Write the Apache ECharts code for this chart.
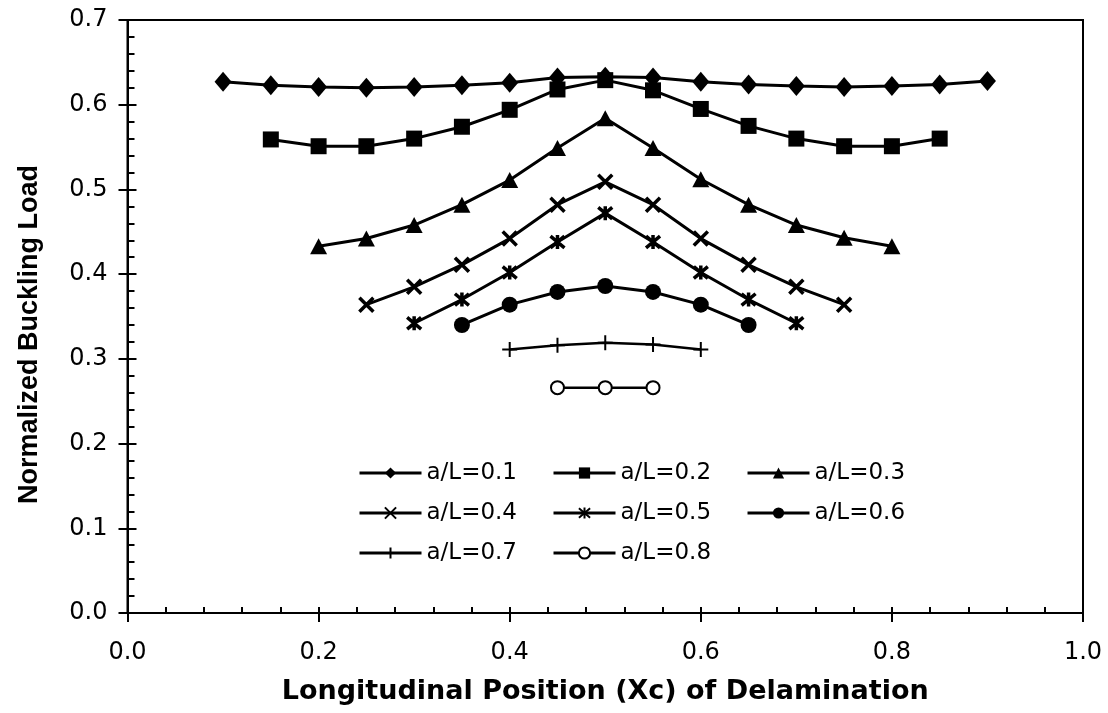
<!DOCTYPE html>
<html>
<head>
<meta charset="utf-8" />
<title>Normalized Buckling Load</title>
<script src="https://cdn.jsdelivr.net/npm/echarts@6/dist/echarts.min.js"></script>
<style>
  * {
    margin: 0;
    padding: 0;
  }
  #chart {
    width: 1108px;
    height: 713px;
    background: #fff;
  }
</style>
</head>
<body>
<div id="chart"></div>
<script>
// 数据
const x01 = [0.1, 0.15, 0.2, 0.25, 0.3, 0.35, 0.4, 0.45, 0.5, 0.55, 0.6, 0.65, 0.7, 0.75, 0.8, 0.85, 0.9];
const y01 = [0.627, 0.623, 0.621, 0.620, 0.621, 0.623, 0.626, 0.632, 0.633, 0.632, 0.627, 0.624, 0.622, 0.621, 0.622, 0.624, 0.628];
const x02 = [0.15, 0.2, 0.25, 0.3, 0.35, 0.4, 0.45, 0.5, 0.55, 0.6, 0.65, 0.7, 0.75, 0.8, 0.85];
const y02 = [0.559, 0.551, 0.551, 0.560, 0.574, 0.594, 0.618, 0.629, 0.617, 0.595, 0.575, 0.560, 0.551, 0.551, 0.560];
const x03 = [0.2, 0.25, 0.3, 0.35, 0.4, 0.45, 0.5, 0.55, 0.6, 0.65, 0.7, 0.75, 0.8];
const y03 = [0.433, 0.442, 0.458, 0.482, 0.511, 0.549, 0.584, 0.549, 0.512, 0.482, 0.458, 0.443, 0.433];
const x04 = [0.25, 0.3, 0.35, 0.4, 0.45, 0.5, 0.55, 0.6, 0.65, 0.7, 0.75];
const y04 = [0.364, 0.385, 0.411, 0.442, 0.482, 0.509, 0.482, 0.442, 0.411, 0.385, 0.364];
const x05 = [0.3, 0.35, 0.4, 0.45, 0.5, 0.55, 0.6, 0.65, 0.7];
const y05 = [0.342, 0.370, 0.402, 0.438, 0.472, 0.438, 0.402, 0.370, 0.342];
const x06 = [0.35, 0.4, 0.45, 0.5, 0.55, 0.6, 0.65];
const y06 = [0.340, 0.364, 0.379, 0.386, 0.379, 0.364, 0.340];
const x07 = [0.4, 0.45, 0.5, 0.55, 0.6];
const y07 = [0.311, 0.316, 0.319, 0.317, 0.311];
const x08 = [0.45, 0.5, 0.55];
const y08 = [0.266, 0.266, 0.266];

const names = ["a/L=0.1", "a/L=0.2", "a/L=0.3", "a/L=0.4", "a/L=0.5", "a/L=0.6", "a/L=0.7", "a/L=0.8"];
const xTicks = [0, 0.2, 0.4, 0.6, 0.8, 1.0];
const yTicks = [0, 0.1, 0.2, 0.3, 0.4, 0.5, 0.6, 0.7];

const pair = (xs, ys) => xs.map((x, i) => [x, ys[i]]);

// 符号
const crossPath = "path://M0,0L10,10M10,0L0,10";
const starPath = "path://M0,0L10,10M10,0L0,10M5,-1L5,11";
const plusPath = "path://M5,0L5,10M0,5L10,5";

const line = (name, data, symbol, size, extra) =>
  Object.assign(
    {
      name: name,
      type: "line",
      data: data,
      symbol: symbol,
      symbolSize: size,
      showSymbol: true,
      animation: false,
      lineStyle: { color: "#000", width: 3 },
      itemStyle: { color: "#000", borderColor: "#000", borderWidth: 0 },
      emphasis: { disabled: true },
      z: 3,
    },
    extra || {}
  );

const series = [
  line(names[0], pair(x01, y01), "diamond", [17, 20]),
  line(names[1], pair(x02, y02), "rect", 16),
  line(names[2], pair(x03, y03), "triangle", [17, 16]),
  line(names[3], pair(x04, y04), crossPath, 14, {
    itemStyle: { color: "#000", borderColor: "#000", borderWidth: 3.5 },
  }),
  line(names[4], pair(x05, y05), starPath, 14, {
    itemStyle: { color: "#000", borderColor: "#000", borderWidth: 3.5 },
  }),
  line(names[5], pair(x06, y06), "circle", 16),
  line(names[6], pair(x07, y07), plusPath, 15, {
    lineStyle: { color: "#000", width: 2.5 },
    itemStyle: { color: "#000", borderColor: "#000", borderWidth: 2 },
  }),
  line(names[7], pair(x08, y08), "emptyCircle", 13, {
    lineStyle: { color: "#000", width: 2.5 },
    itemStyle: { color: "#000", borderColor: "#000", borderWidth: 2.5 },
  }),
];

const legendRow = (data, top) => ({
  data: data,
  left: 358,
  top: top,
  orient: "horizontal",
  padding: 0,
  itemWidth: 62,
  itemHeight: 14,
  itemGap: 35,
  selectedMode: false,
  lineStyle: { width: 3 },
  textStyle: {
    fontFamily: "DejaVu Sans",
    fontSize: 23,
    color: "#000",
    lineHeight: 24,
  },
});

const tickFont = { fontFamily: "DejaVu Sans", fontSize: 24, color: "#000" };

let chart = echarts.init(document.getElementById("chart"), null, { renderer: "canvas" });
chart.setOption({
  backgroundColor: "#fff",
  grid: {
    left: 127.5,
    right: 25,
    top: 20,
    bottom: 100,
    show: true,
    borderColor: "#000",
    borderWidth: 2,
  },
  legend: [
    legendRow([names[0], names[1], names[2]], 461),
    legendRow([names[3], names[4], names[5]], 501),
    legendRow([names[6], names[7]], 541),
  ],
  xAxis: [
    {
      type: "value",
      position: "bottom",
      min: xTicks[0],
      max: xTicks[xTicks.length - 1],
      interval: 0.2,
      name: "Longitudinal Position (Xc) of Delamination",
      nameLocation: "middle",
      nameGap: 65,
      nameTextStyle: {
        fontFamily: "DejaVu Sans",
        fontWeight: "bold",
        fontSize: 27,
        color: "#000",
      },
      axisLine: { lineStyle: { color: "#000", width: 2 } },
      axisTick: { show: true, inside: false, length: 9, lineStyle: { color: "#000", width: 2 } },
      axisLabel: Object.assign({ margin: 28, formatter: (v) => v.toFixed(1) }, tickFont),
      splitLine: { show: false },
    },
    {
      type: "value",
      position: "bottom",
      min: xTicks[0],
      max: xTicks[xTicks.length - 1],
      interval: 0.2,
      axisLine: { show: false },
      axisTick: { show: true, inside: true, length: 6, lineStyle: { color: "#000", width: 2 } },
      minorTick: { show: true, splitNumber: 5, length: 6, lineStyle: { color: "#000", width: 2 } },
      axisLabel: { show: false },
      splitLine: { show: false },
    },
  ],
  yAxis: [
    {
      type: "value",
      position: "left",
      min: yTicks[0],
      max: yTicks[yTicks.length - 1],
      interval: 0.1,
      name: "Normalized Buckling Load",
      nameLocation: "middle",
      nameGap: 84,
      nameTextStyle: {
        fontFamily: "Liberation Sans",
        fontWeight: "bold",
        fontSize: 27,
        color: "#000",
        padding: [0, 36, 0, 0],
      },
      axisLine: { lineStyle: { color: "#000", width: 2 } },
      axisTick: { show: true, inside: false, length: 9, lineStyle: { color: "#000", width: 2 } },
      axisLabel: Object.assign({ margin: 20, formatter: (v) => v.toFixed(1) }, tickFont),
      splitLine: { show: false },
    },
    {
      type: "value",
      position: "left",
      min: yTicks[0],
      max: yTicks[yTicks.length - 1],
      interval: 0.1,
      axisLine: { show: false },
      axisTick: { show: true, inside: true, length: 9, lineStyle: { color: "#000", width: 2 } },
      minorTick: { show: true, splitNumber: 5, length: 7, lineStyle: { color: "#000", width: 2 } },
      axisLabel: { show: false },
      splitLine: { show: false },
    },
  ],
  series: series,
});
</script>
</body>
</html>
